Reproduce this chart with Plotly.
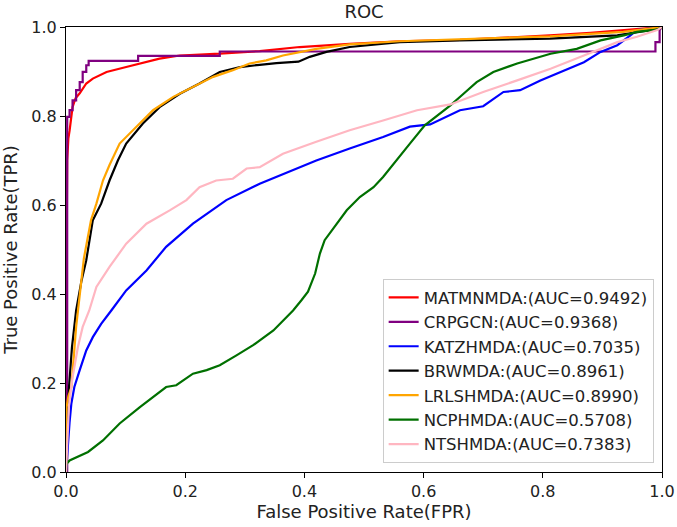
import plotly.graph_objects as go

# ---- data ----
names = ["MATMNMDA:(AUC=0.9492)", "CRPGCN:(AUC=0.9368)", "KATZHMDA:(AUC=0.7035)",
         "BRWMDA:(AUC=0.8961)", "LRLSHMDA:(AUC=0.8990)", "NCPHMDA:(AUC=0.5708)",
         "NTSHMDA:(AUC=0.7383)"]

matmnmda_fpr = [0, 0.001, 0.001, 0.002, 0.004, 0.006, 0.011, 0.016, 0.023, 0.034, 0.045, 0.068, 0.101,
                0.135, 0.157, 0.191, 0.258, 0.325, 0.392, 0.476, 0.56, 0.661, 0.73, 0.812, 0.88, 0.947, 1.0]
matmnmda_tpr = [0, 0.0, 0.50, 0.70, 0.75, 0.767, 0.82, 0.84, 0.851, 0.873, 0.884, 0.899, 0.91,
                0.921, 0.929, 0.936, 0.940, 0.946, 0.955, 0.962, 0.968, 0.971, 0.975, 0.981, 0.987, 0.994, 1.0]

crpgcn_fpr = [0, 0.002, 0.002, 0.006, 0.006, 0.011, 0.011, 0.017, 0.017, 0.023, 0.023, 0.028, 0.028,
              0.034, 0.034, 0.038, 0.038, 0.121, 0.121, 0.258, 0.258, 0.989, 0.989, 0.996, 0.996, 1.0]
crpgcn_tpr = [0, 0.0, 0.798, 0.798, 0.813, 0.813, 0.835, 0.835, 0.858, 0.858, 0.876, 0.876, 0.899,
              0.899, 0.914, 0.914, 0.924, 0.924, 0.935, 0.935, 0.945, 0.945, 0.966, 0.966, 0.993, 1.0]

katzhmda_fpr = [0, 0.004, 0.006, 0.009, 0.014, 0.023, 0.034, 0.045, 0.059, 0.076, 0.101, 0.135, 0.168,
                0.213, 0.269, 0.325, 0.381, 0.42, 0.476, 0.532, 0.577, 0.602, 0.611, 0.661, 0.695, 0.70,
                0.734, 0.762, 0.796, 0.841, 0.869, 0.897, 0.925, 0.947, 0.958, 1.0]
katzhmda_tpr = [0, 0.08, 0.112, 0.154, 0.191, 0.229, 0.273, 0.303, 0.333, 0.363, 0.408, 0.453, 0.506,
                0.558, 0.611, 0.648, 0.678, 0.70, 0.727, 0.753, 0.776, 0.779, 0.781, 0.813, 0.82, 0.822,
                0.854, 0.858, 0.88, 0.906, 0.921, 0.944, 0.959, 0.981, 0.993, 1.0]

brwmda_fpr = [0, 0.002, 0.005, 0.01, 0.017, 0.026, 0.034, 0.045, 0.059, 0.073, 0.087, 0.101, 0.129,
              0.157, 0.191, 0.224, 0.258, 0.292, 0.325, 0.353, 0.39, 0.409, 0.437, 0.476, 0.56, 0.661,
              0.812, 0.925, 0.98, 1.0]
brwmda_tpr = [0, 0.12, 0.19, 0.28, 0.363, 0.43, 0.476, 0.566, 0.603, 0.655, 0.70, 0.738, 0.783,
              0.82, 0.85, 0.873, 0.899, 0.91, 0.915, 0.919, 0.922, 0.933, 0.944, 0.955, 0.966, 0.97,
              0.974, 0.981, 0.993, 1.0]

lrlshmda_fpr = [0, 0.001, 0.004, 0.009, 0.017, 0.026, 0.030, 0.042, 0.051, 0.062, 0.073, 0.09, 0.118,
                0.146, 0.18, 0.213, 0.247, 0.28, 0.308, 0.336, 0.364, 0.42, 0.476, 0.56, 0.661, 0.812,
                0.935, 1.0]
lrlshmda_tpr = [0, 0.146, 0.17, 0.19, 0.326, 0.44, 0.48, 0.566, 0.603, 0.655, 0.69, 0.738, 0.775,
                0.813, 0.843, 0.865, 0.888, 0.903, 0.918, 0.925, 0.936, 0.951, 0.961, 0.968, 0.972, 0.979,
                0.989, 1.0]

ncphmda_fpr = [0, 0, 0.006, 0.037, 0.062, 0.09, 0.124, 0.168, 0.185, 0.213, 0.236, 0.258, 0.286, 0.314,
               0.348, 0.381, 0.395, 0.406, 0.418, 0.426, 0.434, 0.454, 0.471, 0.493, 0.516, 0.532, 0.555,
               0.577, 0.602, 0.633, 0.645, 0.667, 0.689, 0.717, 0.757, 0.813, 0.857, 0.897, 0.936, 0.958,
               0.992, 1.0]
ncphmda_tpr = [0, 0.017, 0.026, 0.045, 0.071, 0.109, 0.146, 0.191, 0.195, 0.221, 0.229, 0.24, 0.262, 0.285,
               0.318, 0.363, 0.386, 0.405, 0.446, 0.491, 0.521, 0.558, 0.588, 0.618, 0.64, 0.663, 0.70,
               0.738, 0.779, 0.812, 0.824, 0.85, 0.876, 0.899, 0.918, 0.94, 0.951, 0.97, 0.981, 0.989,
               0.994, 1.0]

ntshmda_fpr = [0, 0.002, 0.005, 0.011, 0.02, 0.028, 0.039, 0.051, 0.073, 0.101, 0.135, 0.174, 0.202,
               0.224, 0.252, 0.28, 0.303, 0.325, 0.364, 0.42, 0.476, 0.532, 0.589, 0.645, 0.70, 0.757,
               0.813, 0.869, 0.897, 0.925, 0.958, 0.992, 1.0]
ntshmda_tpr = [0, 0.08, 0.15, 0.213, 0.281, 0.326, 0.363, 0.416, 0.461, 0.513, 0.558, 0.588, 0.611,
               0.64, 0.655, 0.659, 0.682, 0.685, 0.715, 0.742, 0.768, 0.79, 0.813, 0.826, 0.854, 0.88,
               0.906, 0.936, 0.951, 0.966, 0.978, 0.993, 1.0]

colors = ["#ff0000", "#800080", "#0000ff", "#000000", "#ffa500", "#007000", "#ffb6c1"]

series_x = [matmnmda_fpr, crpgcn_fpr, katzhmda_fpr, brwmda_fpr, lrlshmda_fpr, ncphmda_fpr, ntshmda_fpr]
series_y = [matmnmda_tpr, crpgcn_tpr, katzhmda_tpr, brwmda_tpr, lrlshmda_tpr, ncphmda_tpr, ntshmda_tpr]

tick_vals = [0.0, 0.2, 0.4, 0.6, 0.8, 1.0]
tick_text = ["0.0", "0.2", "0.4", "0.6", "0.8", "1.0"]

FONT = "DejaVu Sans"

fig = go.Figure()
for n, xs, ys, c in zip(names, series_x, series_y, colors):
    fig.add_trace(go.Scatter(x=xs, y=ys, mode="lines", name=n,
                             line=dict(color=c, width=2.2)))

axis_common = dict(range=[0, 1], showgrid=False, zeroline=False, showline=True,
                   linecolor="black", linewidth=1, mirror=True, ticks="outside",
                   ticklen=5, tickwidth=1, tickcolor="black",
                   tickvals=tick_vals, ticktext=tick_text,
                   tickfont=dict(family=FONT, size=16, color="#222"))

fig.update_layout(
    width=677, height=527,
    margin=dict(l=66, r=15, t=27, b=55),
    paper_bgcolor="white", plot_bgcolor="white",
    font=dict(family=FONT, color="#222"),
    title=dict(text="ROC", x=0.5, xref="paper", y=1 - 12 / 527, yref="container",
               xanchor="center", yanchor="middle", font=dict(family=FONT, size=18, color="#222")),
    xaxis=dict(**axis_common, title=dict(text="False Positive Rate(FPR)", standoff=0,
                                         font=dict(family=FONT, size=18, color="#222"))),
    yaxis=dict(**axis_common, title=dict(text="True Positive Rate(TPR)", standoff=10,
                                         font=dict(family=FONT, size=18, color="#222"))),
    legend=dict(x=0.986, y=0.02, xanchor="right", yanchor="bottom",
                bgcolor="white", bordercolor="#cccccc", borderwidth=1,
                font=dict(family=FONT, size=16.5, color="#222"), tracegroupgap=0),
    showlegend=True,
)
fig.update_xaxes(automargin=False)
fig.update_yaxes(automargin=False)

fig.write_html("out.html", config={"displayModeBar": False},
               post_script="document.body.style.margin='0';document.body.style.overflow='hidden';")
